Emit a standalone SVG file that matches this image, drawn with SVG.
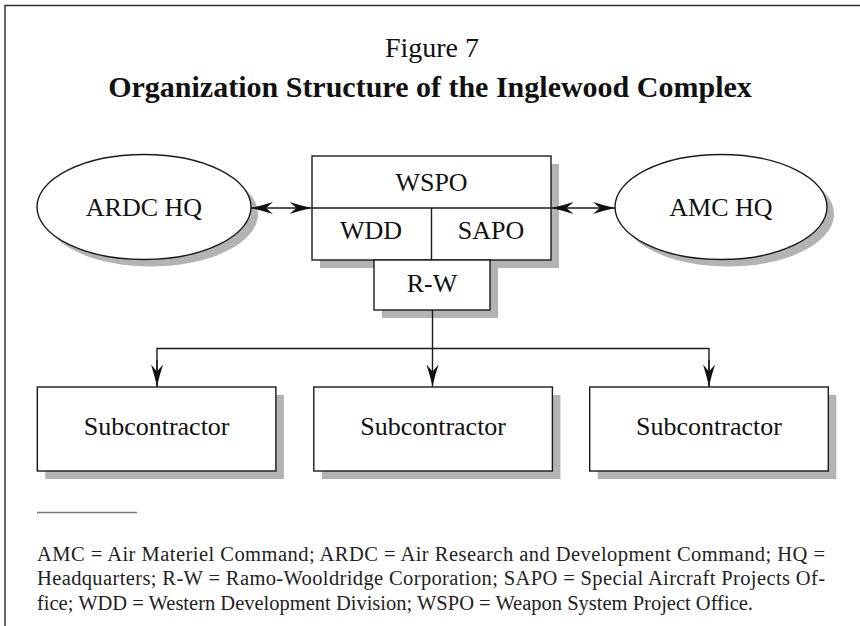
<svg xmlns="http://www.w3.org/2000/svg" width="860" height="626" viewBox="0 0 860 626">
<defs>
<style>
.box{fill:#fff;stroke:#1a1a1a;stroke-width:1.4}
.shadow{fill:#b3b3b3;stroke:none}
.lbl{font-family:"Liberation Serif","Times New Roman",serif;font-size:26px;fill:#111;text-anchor:middle}
.conn{fill:none;stroke:#1a1a1a;stroke-width:1.4}
.note{font-family:"Liberation Serif","Times New Roman",serif;font-size:20.5px;fill:#222}
</style>
<marker id="ah" markerUnits="userSpaceOnUse" markerWidth="24" markerHeight="14" viewBox="-23 -7 24 14" refX="0" refY="0" orient="auto-start-reverse">
<path d="M0,0 Q-11,-2.5 -22,-6 L-15,0 L-22,6 Q-11,2.5 0,0 Z" fill="#111"/>
</marker>
</defs>
<rect width="860" height="626" fill="#fff"/>
<path d="M5,626 V5.5 H860" fill="none" stroke="#333" stroke-width="1.5"/>
<text x="432" y="57" style="font-family:'Liberation Serif','Times New Roman',serif;font-size:28px;fill:#111;text-anchor:middle">Figure 7</text>
<text x="430" y="97" style="font-family:'Liberation Serif','Times New Roman',serif;font-size:30px;font-weight:bold;fill:#111;text-anchor:middle">Organization Structure of the Inglewood Complex</text>

<g id="ardc">
<ellipse class="shadow" cx="151" cy="214" rx="107" ry="52.5"/>
<ellipse class="box" cx="144" cy="207" rx="107" ry="52.5"/>
<text class="lbl" x="144" y="216">ARDC HQ</text>
</g>
<g id="amc">
<ellipse class="shadow" cx="728" cy="214" rx="106" ry="52.5"/>
<ellipse class="box" cx="721" cy="207" rx="106" ry="52.5"/>
<text class="lbl" x="721" y="216">AMC HQ</text>
</g>
<g id="wspo">
<rect class="shadow" x="320" y="164" width="239" height="104"/>
<rect class="shadow" x="382" y="268" width="116" height="50"/>
<rect class="box" x="312" y="156" width="239" height="104"/>
<line class="conn" x1="312" y1="208" x2="551" y2="208"/>
<text class="lbl" x="431.5" y="191">WSPO</text>
</g>
<g id="wdd">
<line class="conn" x1="431.5" y1="208" x2="431.5" y2="260"/>
<text class="lbl" x="371" y="239">WDD</text>
</g>
<g id="sapo">
<text class="lbl" x="491" y="239">SAPO</text>
</g>
<g id="rw">
<rect class="box" x="374" y="260" width="116" height="50"/>
<text class="lbl" x="432" y="292">R-W</text>
</g>
<g id="sub1">
<rect class="shadow" x="45.3" y="395" width="238.6" height="84"/>
<rect class="box" x="37.3" y="387" width="238.6" height="84"/>
<text class="lbl" x="156.6" y="435">Subcontractor</text>
</g>
<g id="sub2">
<rect class="shadow" x="321.8" y="395" width="238.6" height="84"/>
<rect class="box" x="313.8" y="387" width="238.6" height="84"/>
<text class="lbl" x="433.1" y="435">Subcontractor</text>
</g>
<g id="sub3">
<rect class="shadow" x="597.7" y="395" width="238.6" height="84"/>
<rect class="box" x="589.7" y="387" width="238.6" height="84"/>
<text class="lbl" x="709" y="435">Subcontractor</text>
</g>
<g id="connectors">
<line class="conn" x1="251" y1="208" x2="311.5" y2="208" marker-start="url(#ah)" marker-end="url(#ah)"/>
<line class="conn" x1="551.5" y1="208" x2="615" y2="208" marker-start="url(#ah)" marker-end="url(#ah)"/>
<line class="conn" x1="432.5" y1="310" x2="432.5" y2="386.5" marker-end="url(#ah)"/>
<path class="conn" d="M157,386.5 V348.5 H709 V386.5"/>
<line class="conn" x1="157" y1="360" x2="157" y2="386.5" marker-end="url(#ah)"/>
<line class="conn" x1="709" y1="360" x2="709" y2="386.5" marker-end="url(#ah)"/>
</g>
<line x1="37" y1="512.5" x2="137" y2="512.5" stroke="#777" stroke-width="1.5"/>
<text class="note" x="37" y="560.5" textLength="788" lengthAdjust="spacing">AMC = Air Materiel Command; ARDC = Air Research and Development Command; HQ =</text>
<text class="note" x="37" y="585" textLength="788" lengthAdjust="spacing">Headquarters; R-W = Ramo-Wooldridge Corporation; SAPO = Special Aircraft Projects Of-</text>
<text class="note" x="37" y="609.5">fice; WDD = Western Development Division; WSPO = Weapon System Project Office.</text>
</svg>
